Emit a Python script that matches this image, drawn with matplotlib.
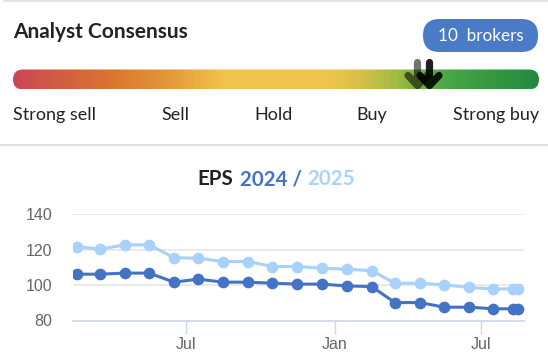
import numpy as np
import matplotlib
matplotlib.use("Agg")
import matplotlib.pyplot as plt
from matplotlib.patches import FancyBboxPatch, PathPatch
from matplotlib.path import Path
from matplotlib.colors import to_rgb
import datetime as dt

# data
dates = ["2023-02-16", "2023-03-16", "2023-04-16", "2023-05-16", "2023-06-16",
         "2023-07-16", "2023-08-16", "2023-09-16", "2023-10-16", "2023-11-16",
         "2023-12-16", "2024-01-16", "2024-02-16", "2024-03-16", "2024-04-16",
         "2024-05-16", "2024-06-16", "2024-07-16", "2024-08-09", "2024-08-16"]
eps_2024 = [106.1, 106.1, 106.7, 106.7, 101.6, 103.3, 101.6, 101.6, 101.0, 100.5,
            100.5, 99.5, 99.1, 90.1, 90.1, 87.5, 87.5, 86.6, 86.6, 86.6]
eps_2025 = [121.6, 120.2, 122.6, 122.6, 115.4, 115.1, 113.2, 113.2, 110.4, 110.4,
            109.5, 108.9, 108.1, 101.0, 101.0, 100.1, 98.6, 97.8, 97.8, 97.8]
scale_labels = ["Strong sell", "Sell", "Hold", "Buy", "Strong buy"]
brokers = 10
consensus_marks = [417.5, 429.5]  # arrow positions on the bar (px)

W, H = 548, 362
fig = plt.figure(figsize=(W / 100, H / 100), dpi=100)
fig.patch.set_facecolor("white")

# pixel overlay for the consensus card
ov = fig.add_axes([0, 0, 1, 1])
ov.set_xlim(0, W)
ov.set_ylim(H, 0)
ov.axis("off")

ov.plot([4, W], [0.7, 0.7], color="#e2e2e2", lw=1.2)
ov.plot([0, W], [145, 145], color="#e0e0e0", lw=1.5)

ov.text(13, 37.5, "Analyst Consensus", fontfamily="Lato", fontweight="bold",
        fontsize=15, color="#222222", va="baseline", ha="left")

badge = FancyBboxPatch((423, 19), 115, 33, boxstyle="round,pad=0,rounding_size=16.5",
                       fc="#4a7bc6", ec="none")
ov.add_patch(badge)
ov.text(481, 36, f"{brokers}  brokers", fontfamily="Lato", fontsize=12.3,
        color="white", va="center", ha="center")

# gradient bar
stops = [(0.0, "#cc4656"), (0.19, "#d9772f"), (0.30, "#e49a3a"), (0.40, "#f0c34b"),
         (0.60, "#f0c44b"), (0.66, "#d8c04a"), (0.73, "#a0bb44"), (0.79, "#62ad42"),
         (0.84, "#43a447"), (0.93, "#32963f"), (1.0, "#228840")]
pos = np.array([s[0] for s in stops])
cols = np.array([to_rgb(s[1]) for s in stops])
xs = np.linspace(0, 1, 600)
grad = np.stack([np.interp(xs, pos, cols[:, i]) for i in range(3)], axis=-1)[None, :, :]
bar = FancyBboxPatch((13, 69.5), 526, 20, boxstyle="round,pad=0,rounding_size=10",
                     fc="none", ec="none")
ov.add_patch(bar)
im = ov.imshow(grad, extent=(13, 539, 89.5, 69.5), aspect="auto", interpolation="bilinear")
im.set_clip_path(bar)

for x, alpha in zip(consensus_marks, [0.55, 0.88]):
    verts = [(x, 62.5), (x, 85), (x - 9.5, 75.5), (x, 85.5), (x + 9.5, 75.5)]
    codes = [Path.MOVETO, Path.LINETO, Path.MOVETO, Path.LINETO, Path.LINETO]
    ov.add_patch(PathPatch(Path(verts, codes), fill=False, ec=(0, 0, 0, alpha), lw=5.2,
                           capstyle="round", joinstyle="round"))

label_x = [13, 175, 273, 372, 539]
label_ha = ["left", "center", "center", "center", "right"]
for lab, x, ha in zip(scale_labels, label_x, label_ha):
    ov.text(x, 120, lab, fontfamily="Lato", fontsize=13, color="#222222",
            va="baseline", ha=ha)

# EPS title
ov.text(197, 185, "EPS", fontfamily="Lato", fontweight="bold", fontsize=14.8,
        color="#222222", va="baseline")
ov.text(240, 185, "2024 /", fontfamily="Lato", fontweight="bold", fontsize=14.8,
        color="#4472c4", va="baseline")
ov.text(307, 185, "2025", fontfamily="Lato", fontweight="bold", fontsize=14.8,
        color="#aad3fc", va="baseline")

# EPS line chart
x0, x1, ytop, ybot = 73.3, 524, 214, 320.5
ax = fig.add_axes([x0 / W, 1 - ybot / H, (x1 - x0) / W, (ybot - ytop) / H])
ax.set_facecolor("none")
d = [dt.datetime.strptime(s, "%Y-%m-%d") for s in dates]
ax.plot(d, eps_2024, color="#4472c4", lw=2.2, marker="o", ms=7.4, zorder=3)
ax.plot(d, eps_2025, color="#a8d1fb", lw=2.2, marker="o", ms=7.4, zorder=3)

ax.set_xlim(dt.datetime(2023, 2, 11), dt.datetime(2024, 8, 23))
ax.set_ylim(80, 140)
ax.set_yticks([80, 100, 120, 140])
ax.grid(axis="y", color="#e6e6e6", lw=1.2)
ax.set_axisbelow(True)
for s in ["top", "right", "left"]:
    ax.spines[s].set_visible(False)
ax.spines["bottom"].set_color("#ccd6eb")
ax.spines["bottom"].set_linewidth(1.2)
ax.set_xticks([dt.datetime(2023, 7, 1), dt.datetime(2024, 1, 1), dt.datetime(2024, 7, 1)])
ax.set_xticklabels(["Jul", "Jan", "Jul"])
ax.tick_params(axis="x", length=9, width=1, color="#ccd6eb", pad=3,
               labelsize=11.5, labelcolor="#666666")
ax.tick_params(axis="y", length=0, pad=15, labelsize=11.5, labelcolor="#666666")
for t in ax.get_xticklabels() + ax.get_yticklabels():
    t.set_fontfamily("Liberation Sans")

fig.savefig("out.png", dpi=100, facecolor="white")
